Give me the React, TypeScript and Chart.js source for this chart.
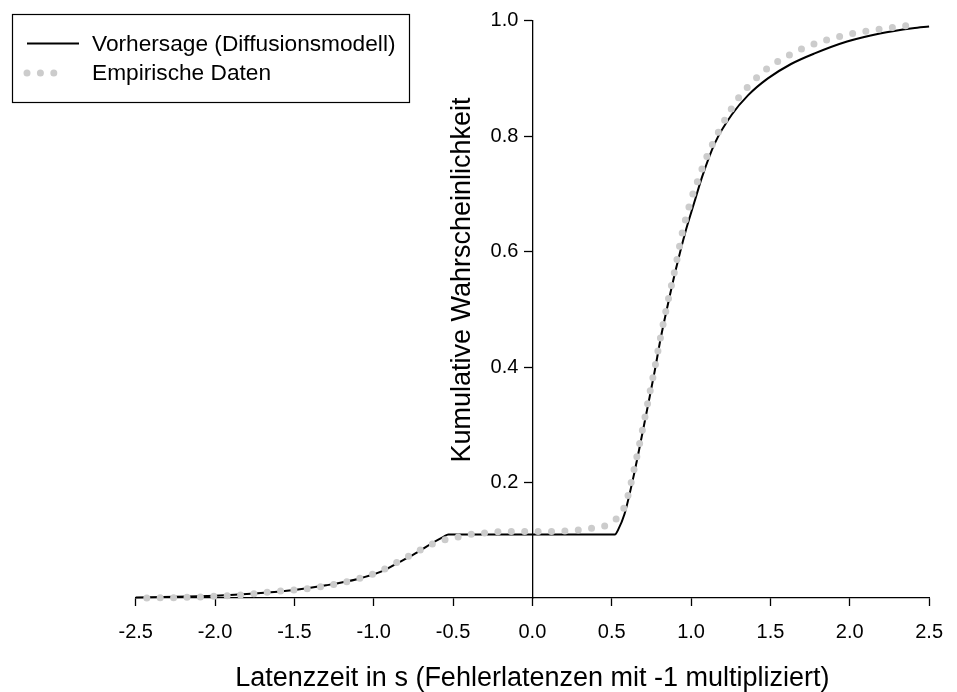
import React, { useEffect, useRef } from "react";
import { Chart, registerables } from "chart.js";

Chart.register(...registerables);

const FONT = '"Liberation Sans", Arial, Helvetica, sans-serif';

const xTickValues = [-2.5, -2.0, -1.5, -1.0, -0.5, 0.0, 0.5, 1.0, 1.5, 2.0, 2.5];
const yTickValues = [0.2, 0.4, 0.6, 0.8, 1.0];

const seriesLabels = ["Vorhersage (Diffusionsmodell)", "Empirische Daten"];
const xTitle = "Latenzzeit in s (Fehlerlatenzen mit -1 multipliziert)";
const yTitle = "Kumulative Wahrscheinlichkeit";

// Model prediction (black line)
const modelX = [
  -2.5, -2.25, -2.0, -1.75, -1.5, -1.3, -1.1, -0.95, -0.84, -0.72, -0.62, -0.56, -0.53,
  -0.4, -0.2, 0.0, 0.2, 0.4, 0.52, 0.54, 0.58, 0.633, 0.685, 0.727, 0.768, 0.81, 0.851,
  0.903, 0.965, 1.02, 1.07, 1.15, 1.256, 1.36, 1.484, 1.63, 1.775, 1.983, 2.19, 2.397, 2.5,
];
const modelY = [
  0.001, 0.002, 0.004, 0.008, 0.014, 0.022, 0.033, 0.046, 0.062, 0.08, 0.097, 0.106, 0.11,
  0.11, 0.11, 0.11, 0.11, 0.11, 0.11, 0.118, 0.145, 0.205, 0.274, 0.332, 0.389, 0.452, 0.505,
  0.568, 0.635, 0.685, 0.73, 0.788, 0.837, 0.871, 0.9, 0.925, 0.943, 0.964, 0.978, 0.987, 0.99,
];

// Empirical data (grey dotted line)
const empX = [
  -2.43, -2.2, -2.0, -1.8, -1.675, -1.42, -1.19, -0.98, -0.79, -0.61, -0.46, -0.37, -0.29,
  -0.2, 0.0, 0.2, 0.29, 0.374, 0.446, 0.509, 0.561, 0.588, 0.608, 0.633, 0.685, 0.727,
  0.768, 0.81, 0.851, 0.903, 0.944, 1.0, 1.038, 1.1, 1.163, 1.225, 1.298, 1.38, 1.474,
  1.588, 1.723, 1.858, 2.024, 2.179, 2.346, 2.43,
];
const empY = [
  0.0, 0.001, 0.003, 0.006, 0.01, 0.016, 0.027, 0.044, 0.071, 0.096, 0.106, 0.111, 0.113,
  0.115, 0.115, 0.116, 0.118, 0.121, 0.124, 0.133, 0.147, 0.164, 0.183, 0.213, 0.28, 0.338,
  0.394, 0.455, 0.51, 0.575, 0.632, 0.69, 0.72, 0.765, 0.802, 0.834, 0.866, 0.892, 0.916,
  0.936, 0.954, 0.967, 0.978, 0.985, 0.991, 0.994,
];

const boxLegend = {
  id: "boxLegend",
  afterDraw(chart: any) {
    const ctx = chart.ctx as CanvasRenderingContext2D;
    ctx.save();
    ctx.fillStyle = "#ffffff";
    ctx.fillRect(12, 14, 397, 88);
    ctx.strokeStyle = "#000000";
    ctx.lineWidth = 1.2;
    ctx.setLineDash([]);
    ctx.strokeRect(12.5, 14.5, 397, 88);
    chart.data.datasets.forEach((ds: any, i: number) => {
      const y = 43.5 + i * 29.5;
      ctx.beginPath();
      const dashed = Array.isArray(ds.borderDash) && ds.borderDash.length > 0;
      ctx.setLineDash(dashed ? ds.borderDash : []);
      ctx.lineCap = ds.borderCapStyle || "butt";
      ctx.lineWidth = ds.borderWidth;
      ctx.strokeStyle = ds.borderColor;
      ctx.moveTo(27, y);
      ctx.lineTo(dashed ? 27 + 3 * ds.borderDash[1] : 79, y);
      ctx.stroke();
      ctx.setLineDash([]);
      ctx.fillStyle = "#000000";
      ctx.font = `22.7px ${FONT}`;
      ctx.textBaseline = "middle";
      ctx.textAlign = "left";
      ctx.fillText(ds.label, 92, y + 1);
    });
    ctx.restore();
  },
};

const yTitlePlugin = {
  id: "yTitlePlugin",
  afterDraw(chart: any) {
    const ctx = chart.ctx as CanvasRenderingContext2D;
    const xs = chart.scales.x;
    const cx = xs.getPixelForValue(0) - 70;
    const cy = 280;
    ctx.save();
    ctx.translate(cx, cy);
    ctx.rotate(-Math.PI / 2);
    ctx.fillStyle = "#000000";
    ctx.font = `27px ${FONT}`;
    ctx.textAlign = "center";
    ctx.textBaseline = "middle";
    ctx.fillText(yTitle, 0, 0);
    ctx.restore();
  },
};

export default function App() {
  const canvasRef = useRef<HTMLCanvasElement | null>(null);

  useEffect(() => {
    const canvas = canvasRef.current;
    if (!canvas) return;
    const chart = new Chart(canvas, {
      type: "line",
      data: {
        datasets: [
          {
            label: seriesLabels[0],
            data: modelX.map((x, i) => ({ x, y: modelY[i] })),
            borderColor: "#000000",
            borderWidth: 2,
            pointRadius: 0,
            fill: false,
            cubicInterpolationMode: "monotone",
            order: 1,
            clip: false,
          } as any,
          {
            label: seriesLabels[1],
            data: empX.map((x, i) => ({ x, y: empY[i] })),
            borderColor: "#cccccc",
            borderWidth: 7,
            borderDash: [0, 13.4],
            borderCapStyle: "round",
            pointRadius: 0,
            fill: false,
            cubicInterpolationMode: "monotone",
            order: 0,
            clip: false,
          } as any,
        ],
      },
      options: {
        animation: false,
        responsive: false,
        devicePixelRatio: 1,
        layout: { padding: { left: 135.7, right: 17, top: 20.7, bottom: 0 } },
        plugins: { legend: { display: false }, tooltip: { enabled: false } },
        scales: {
          x: {
            type: "linear",
            position: "bottom",
            min: -2.5,
            max: 2.5,
            afterBuildTicks: (s: any) => {
              s.ticks = xTickValues.map((v) => ({ value: v }));
            },
            ticks: {
              callback: (v: any) => Number(v).toFixed(1),
              color: "#000000",
              font: { family: FONT, size: 20 },
              padding: 14,
              maxRotation: 0,
              autoSkip: false,
            },
            grid: {
              display: true,
              drawOnChartArea: false,
              drawTicks: true,
              tickLength: 8,
              tickColor: "#000000",
              tickWidth: 1.3,
            },
            border: { display: true, color: "#000000", width: 1.3 },
            title: {
              display: true,
              text: xTitle,
              color: "#000000",
              font: { family: FONT, size: 27, lineHeight: 1 },
              padding: { top: 7, bottom: 0 },
            },
          },
          y: {
            type: "linear",
            position: "center",
            min: 0,
            max: 1,
            afterBuildTicks: (s: any) => {
              s.ticks = yTickValues.map((v) => ({ value: v }));
            },
            ticks: {
              callback: (v: any) => Number(v).toFixed(1),
              color: "#000000",
              font: { family: FONT, size: 20 },
              padding: 6,
              autoSkip: false,
            },
            grid: {
              display: true,
              drawOnChartArea: false,
              drawTicks: true,
              tickLength: 8,
              tickColor: "#000000",
              tickWidth: 1.3,
            },
            border: { display: true, color: "#000000", width: 1.3 },
            title: { display: false },
          },
        },
      } as any,
      plugins: [boxLegend, yTitlePlugin],
    });
    return () => chart.destroy();
  }, []);

  return (
    <div style={{ position: "absolute", left: 0, top: 0, width: 957, height: 692, background: "#ffffff" }}>
      <canvas ref={canvasRef} width={957} height={692} style={{ width: 957, height: 692, display: "block" }} />
    </div>
  );
}
